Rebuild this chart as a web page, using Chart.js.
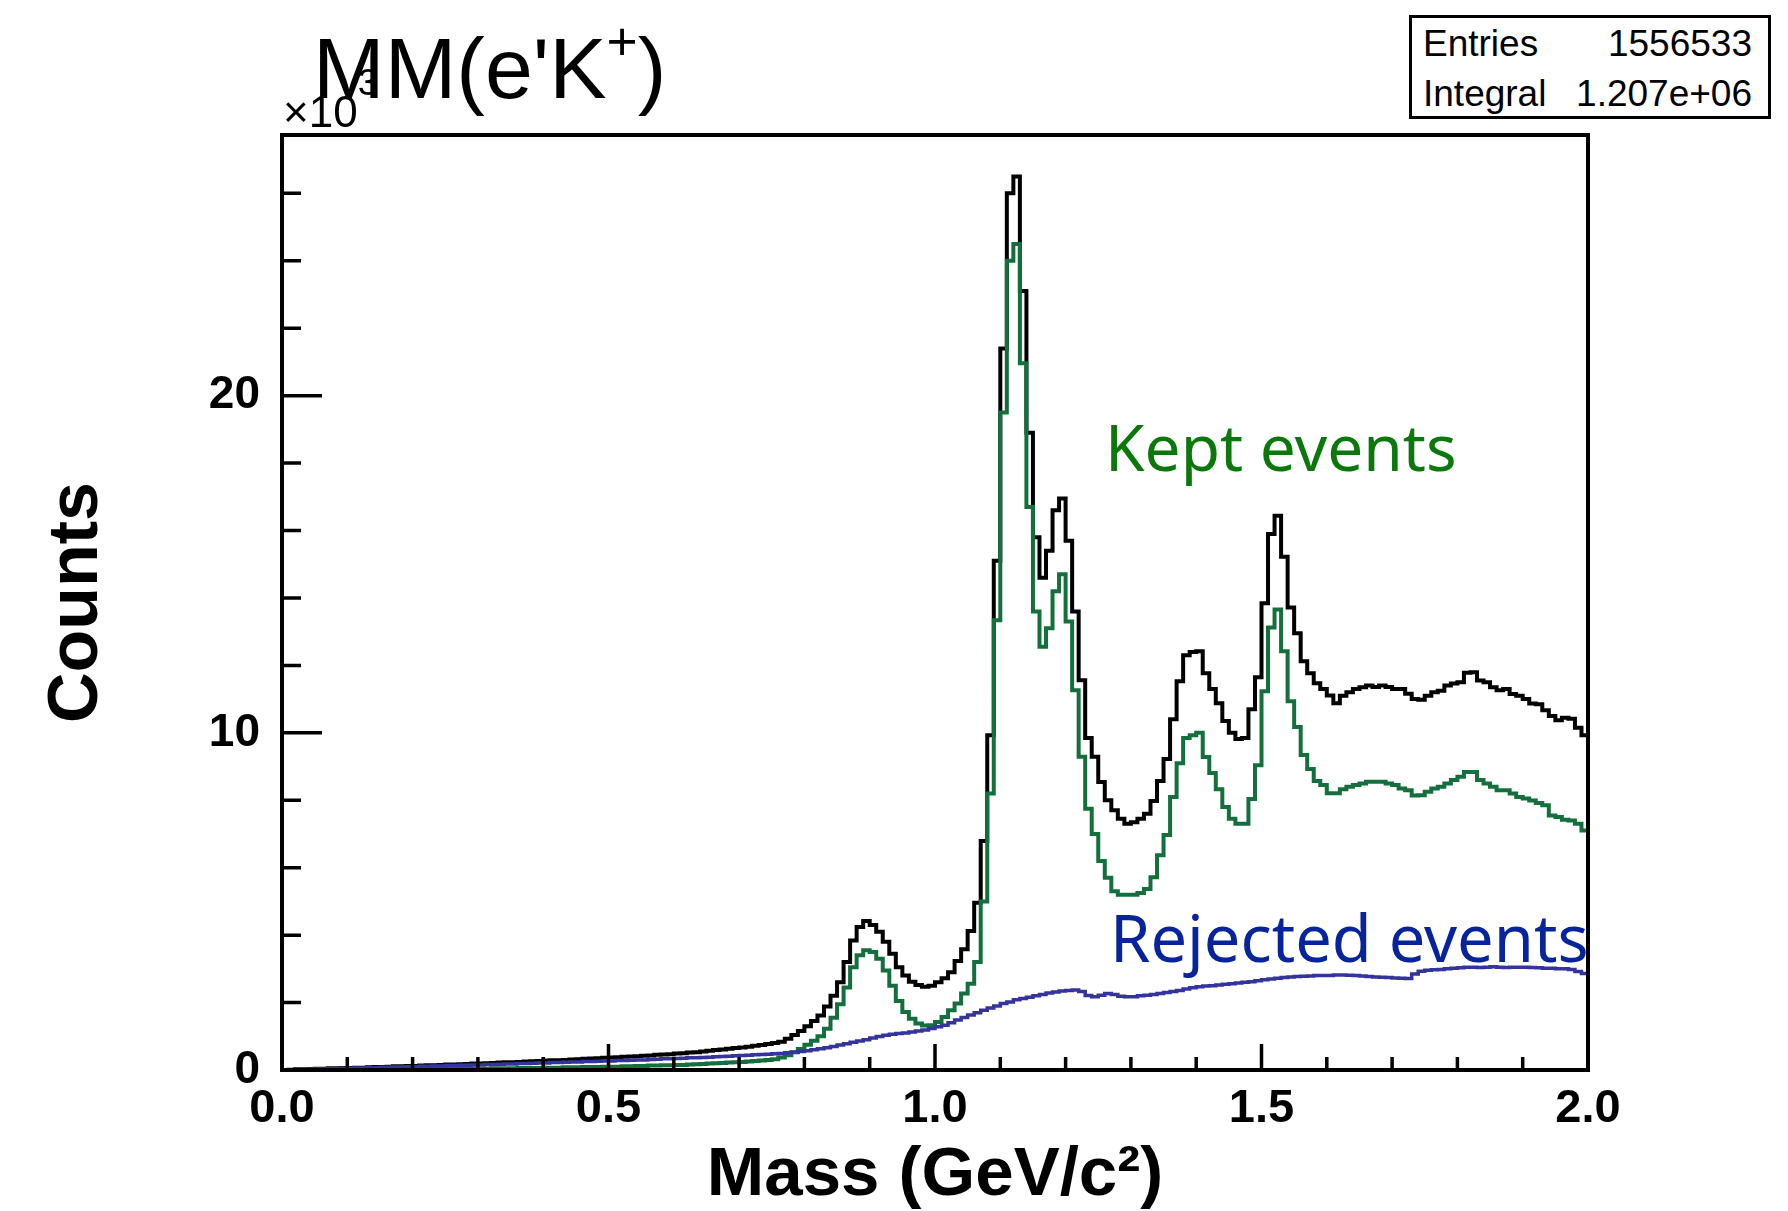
<!DOCTYPE html>
<html>
<head>
<meta charset="utf-8">
<script src="https://cdn.jsdelivr.net/npm/chart.js@4.4.1/dist/chart.umd.min.js"></script>
<style>
html,body{margin:0;padding:0;background:#fff;}
#wrap{position:relative;width:1788px;height:1211px;overflow:hidden;background:#fff;}
#c{position:absolute;left:0;top:0;}
.t{position:absolute;white-space:nowrap;line-height:1;margin:0;padding:0;}
.sup{position:relative;}
</style>
</head>
<body>
<div id="wrap">
<canvas id="c" width="1788" height="1211" style="width:1788px;height:1211px"></canvas>

<div class="t" id="title" style="left:313px;top:25px;font-family:'Liberation Sans',Arial,sans-serif;font-size:86px;color:#000;">MM(e'K<span class="sup" style="font-size:0.62em;top:-0.72em;">+</span>)</div>

<div class="t" id="expo" style="left:283px;top:90px;font-family:'Liberation Sans',Arial,sans-serif;font-size:44px;color:#000;">×10<span class="sup" style="font-size:0.85em;top:-0.85em;">3</span></div>

<div id="stats" style="position:absolute;left:1409px;top:15px;width:356px;height:98px;border:3px solid #000;background:#fff;font-family:'Liberation Sans',Arial,sans-serif;font-size:37px;color:#000;">
  <div class="t" style="left:11px;top:7px;">Entries</div>
  <div class="t" style="right:16px;top:7px;">1556533</div>
  <div class="t" style="left:11px;top:57px;">Integral</div>
  <div class="t" style="right:16px;top:57px;">1.207e+06</div>
</div>

<div class="t" id="kept" style="left:1105px;top:415px;font-family:'Noto Sans',sans-serif;font-size:64px;color:#0a780a;">Kept events</div>
<div class="t" id="rej" style="left:1110px;top:905px;font-family:'Noto Sans',sans-serif;font-size:65px;color:#07249c;">Rejected events</div>
</div>

<script>
// ---- Data (counts in units of 10^3 per 0.01 GeV/c^2 bin) ----
const BIN_WIDTH = 0.01;
const N_BINS = 200;
const binLowEdges = Array.from({length: N_BINS}, (_, i) => Math.round(i * BIN_WIDTH * 100) / 100);

const xTickLabels = [0.0, 0.5, 1.0, 1.5, 2.0];
const yTickLabels = [0, 10, 20];

const allEvents = [
  0.00,0.01,0.02,0.02,0.03,0.04,0.04,0.05,0.05,0.06,
  0.06,0.07,0.07,0.08,0.09,0.09,0.10,0.11,0.11,0.12,
  0.12,0.13,0.14,0.14,0.15,0.16,0.16,0.17,0.18,0.19,
  0.19,0.20,0.21,0.22,0.23,0.23,0.24,0.25,0.26,0.27,
  0.28,0.29,0.29,0.30,0.31,0.32,0.33,0.34,0.35,0.36,
  0.37,0.38,0.39,0.40,0.41,0.42,0.43,0.45,0.46,0.47,
  0.49,0.50,0.52,0.53,0.55,0.57,0.59,0.61,0.63,0.65,
  0.67,0.69,0.72,0.74,0.77,0.80,0.84,0.93,1.04,1.16,
  1.30,1.45,1.62,1.88,2.20,2.60,3.20,3.84,4.24,4.42,
  4.30,4.10,3.80,3.45,3.05,2.80,2.62,2.52,2.47,2.50,
  2.60,2.72,2.90,3.23,3.58,4.12,4.96,6.79,9.93,15.10,
  21.40,26.00,26.50,23.10,18.90,15.80,14.60,15.40,16.60,16.95,
  15.70,13.60,11.56,9.85,9.29,8.54,8.00,7.70,7.45,7.30,
  7.35,7.45,7.60,7.98,8.57,9.22,10.40,11.53,12.30,12.40,
  12.42,11.77,11.30,10.88,10.35,10.00,9.82,9.85,10.70,11.65,
  13.84,15.90,16.44,15.22,13.72,12.95,12.12,11.77,11.47,11.30,
  11.11,10.88,11.10,11.20,11.30,11.35,11.40,11.36,11.40,11.36,
  11.30,11.30,11.16,11.00,10.98,11.10,11.20,11.25,11.40,11.46,
  11.50,11.78,11.80,11.55,11.50,11.35,11.26,11.30,11.15,11.10,
  11.00,10.87,10.85,10.67,10.50,10.37,10.45,10.42,10.15,9.93
];

const keptEvents = [
  0.00,0.00,0.00,0.01,0.01,0.01,0.01,0.01,0.01,0.01,
  0.01,0.01,0.01,0.02,0.02,0.02,0.02,0.02,0.02,0.02,
  0.02,0.03,0.03,0.03,0.03,0.03,0.03,0.04,0.04,0.04,
  0.04,0.04,0.05,0.05,0.05,0.05,0.06,0.06,0.06,0.06,
  0.07,0.07,0.07,0.08,0.08,0.08,0.09,0.09,0.09,0.10,
  0.10,0.10,0.11,0.11,0.12,0.12,0.13,0.13,0.14,0.14,
  0.15,0.15,0.16,0.17,0.18,0.19,0.20,0.21,0.22,0.23,
  0.24,0.25,0.27,0.28,0.30,0.32,0.37,0.44,0.53,0.62,
  0.75,0.87,1.00,1.22,1.55,1.95,2.45,3.05,3.40,3.55,
  3.50,3.30,2.95,2.50,2.05,1.72,1.52,1.38,1.32,1.33,
  1.42,1.57,1.77,1.97,2.27,2.56,3.20,5.00,8.20,13.34,
  19.50,24.00,24.50,20.96,16.70,13.60,12.55,13.10,14.20,14.70,
  13.30,11.26,9.29,7.75,7.00,6.20,5.70,5.30,5.20,5.20,
  5.20,5.25,5.37,5.72,6.37,6.97,8.10,9.10,9.85,9.93,
  10.00,9.28,8.81,8.33,7.80,7.45,7.30,7.30,8.04,9.04,
  11.23,13.12,13.66,12.42,10.94,10.17,9.34,8.93,8.57,8.45,
  8.21,8.21,8.33,8.40,8.45,8.50,8.55,8.55,8.55,8.50,
  8.45,8.35,8.30,8.14,8.15,8.25,8.35,8.40,8.50,8.60,
  8.70,8.84,8.84,8.60,8.50,8.40,8.30,8.30,8.20,8.10,
  8.05,7.99,7.92,7.85,7.55,7.50,7.42,7.40,7.30,7.10
];

const rejectedEvents = [
  0.00,0.01,0.01,0.02,0.02,0.03,0.03,0.04,0.04,0.05,
  0.05,0.06,0.06,0.07,0.07,0.08,0.08,0.09,0.09,0.10,
  0.10,0.11,0.11,0.12,0.12,0.13,0.13,0.14,0.14,0.15,
  0.15,0.16,0.16,0.17,0.18,0.18,0.19,0.19,0.20,0.21,
  0.21,0.22,0.22,0.23,0.24,0.24,0.25,0.25,0.26,0.27,
  0.27,0.28,0.28,0.29,0.30,0.30,0.31,0.32,0.33,0.33,
  0.34,0.35,0.36,0.36,0.37,0.38,0.39,0.40,0.41,0.42,
  0.43,0.44,0.45,0.46,0.47,0.48,0.49,0.51,0.53,0.55,
  0.57,0.60,0.63,0.66,0.70,0.74,0.78,0.82,0.86,0.90,
  0.95,0.99,1.03,1.06,1.08,1.10,1.13,1.16,1.19,1.23,
  1.28,1.33,1.40,1.48,1.56,1.63,1.70,1.77,1.84,1.90,
  1.97,2.02,2.08,2.12,2.16,2.20,2.24,2.28,2.31,2.34,
  2.36,2.37,2.33,2.21,2.17,2.22,2.27,2.24,2.19,2.17,
  2.17,2.20,2.22,2.24,2.27,2.30,2.33,2.36,2.40,2.44,
  2.47,2.49,2.50,2.52,2.54,2.56,2.58,2.60,2.62,2.65,
  2.68,2.70,2.72,2.74,2.76,2.77,2.78,2.79,2.80,2.80,
  2.80,2.82,2.82,2.81,2.80,2.79,2.77,2.76,2.75,2.74,
  2.73,2.72,2.71,2.85,2.93,2.96,2.97,2.98,3.00,3.02,
  3.03,3.05,3.05,3.04,3.05,3.06,3.05,3.04,3.05,3.05,
  3.05,3.04,3.03,3.02,3.02,3.00,3.00,2.98,2.92,2.86
];

// Histogram outline: each bin value held from its low edge to the next edge
function histPoints(values) {
  const pts = values.map((v, i) => ({x: binLowEdges[i], y: v}));
  pts.push({x: binLowEdges[N_BINS - 1] + BIN_WIDTH, y: values[N_BINS - 1]});
  return pts;
}

const FONT = "'Liberation Sans', Arial, Helvetica, sans-serif";

// ROOT-style frame with inward tick marks, drawn from the chart's scales
const rootFrame = {
  id: 'rootFrame',
  afterDatasetsDraw(chart) {
    const {ctx, chartArea: a, scales: {x, y}} = chart;
    ctx.save();
    ctx.strokeStyle = '#000';
    ctx.lineWidth = 3.5;
    ctx.lineCap = 'butt';
    ctx.beginPath();
    for (let k = 1; k <= 13; k++) {
      const v = k * 2;
      const py = y.getPixelForValue(v);
      const len = (v % 10 === 0) ? 40 : 19;
      ctx.moveTo(a.left, py);
      ctx.lineTo(a.left + len, py);
    }
    for (let k = 1; k < 20; k++) {
      const v = k / 10;
      const px = x.getPixelForValue(v);
      const len = (k % 5 === 0) ? 26 : 13;
      ctx.moveTo(px, a.bottom);
      ctx.lineTo(px, a.bottom - len);
    }
    ctx.stroke();
    ctx.lineWidth = 4;
    ctx.strokeRect(a.left, a.top, a.right - a.left, a.bottom - a.top);
    ctx.restore();
  }
};

const isOnList = (v, list) => list.some(t => Math.abs(t - v) < 1e-6);

new Chart(document.getElementById('c').getContext('2d'), {
  type: 'line',
  data: {
    datasets: [
      {label: 'All events', data: histPoints(allEvents), borderColor: '#000000', borderWidth: 4,
       stepped: true, pointRadius: 0, fill: false, order: 2},
      {label: 'Kept events', data: histPoints(keptEvents), borderColor: '#13703c', borderWidth: 4,
       stepped: true, pointRadius: 0, fill: false, order: 1},
      {label: 'Rejected events', data: histPoints(rejectedEvents), borderColor: '#34349c', borderWidth: 3.5,
       stepped: true, pointRadius: 0, fill: false, order: 0}
    ]
  },
  options: {
    responsive: false,
    animation: false,
    devicePixelRatio: 1,
    layout: {padding: {left: 0, top: 135, right: 200, bottom: 0}},
    plugins: {legend: {display: false}, tooltip: {enabled: false}, title: {display: false}},
    scales: {
      x: {
        type: 'linear', min: 0, max: 2,
        afterFit(s) { s.height = 141; },
        grid: {display: false, drawTicks: false},
        border: {display: false},
        ticks: {
          stepSize: 0.5, padding: 16, autoSkip: false, maxRotation: 0, color: '#000',
          font: {family: FONT, size: 47, weight: 'bold', lineHeight: 1},
          callback: (v) => isOnList(v, xTickLabels) ? Number(v).toFixed(1) : ''
        },
        title: {
          display: true, text: 'Mass (GeV/c²)', color: '#000',
          font: {family: FONT, size: 69, weight: 'bold', lineHeight: 1},
          padding: {top: 0, bottom: 1}
        }
      },
      y: {
        type: 'linear', min: 0, max: 27.73,
        afterFit(s) { s.width = 282; },
        grid: {display: false, drawTicks: false},
        border: {display: false},
        ticks: {
          stepSize: 10, includeBounds: false, padding: 22, color: '#000',
          font: {family: FONT, size: 46, weight: 'bold', lineHeight: 1},
          callback: (v) => isOnList(v, yTickLabels) ? String(v) : ''
        },
        title: {
          display: true, text: 'Counts', color: '#000',
          font: {family: FONT, size: 70, weight: 'bold', lineHeight: 1},
          padding: {top: 43, bottom: 0}
        }
      }
    }
  },
  plugins: [rootFrame]
});
</script>
</body>
</html>
